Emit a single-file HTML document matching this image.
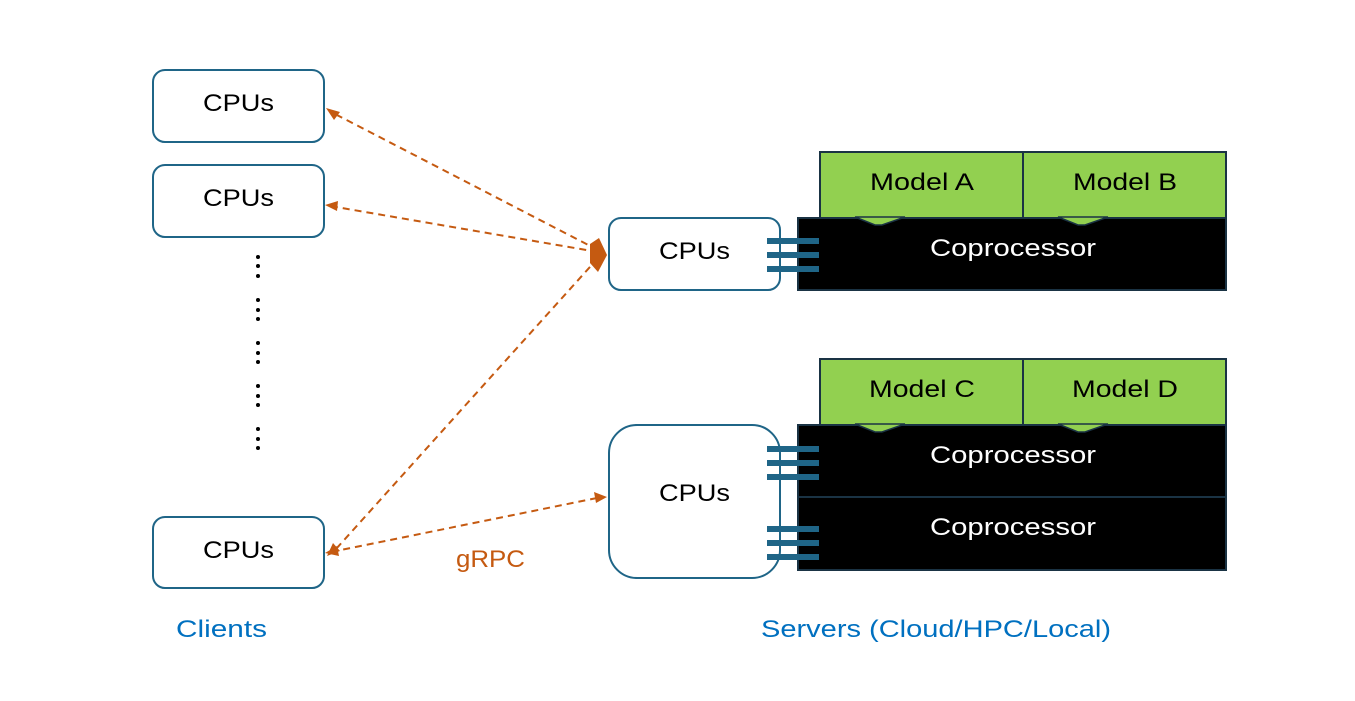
<!DOCTYPE html>
<html><head><meta charset="utf-8"><style>
html,body{margin:0;padding:0;background:#fff;}
svg{display:block;font-family:"Liberation Sans",sans-serif;}
</style></head><body>
<svg width="1355" height="701" viewBox="0 0 1355 701" xmlns="http://www.w3.org/2000/svg">
<g fill="#fff" stroke="#1f6587" stroke-width="2">
<rect x="153" y="70" width="171" height="72" rx="12"/>
<rect x="153" y="165" width="171" height="72" rx="12"/>
<rect x="153" y="517" width="171" height="71" rx="12"/>
<rect x="609" y="218" width="171" height="72" rx="12"/>
<rect x="609" y="425" width="171" height="153" rx="28"/>
</g>
<g fill="#000">
<circle cx="258" cy="257" r="2"/><circle cx="258" cy="266" r="2"/><circle cx="258" cy="276" r="2"/>
<circle cx="258" cy="300" r="2"/><circle cx="258" cy="310" r="2"/><circle cx="258" cy="319" r="2"/>
<circle cx="258" cy="343" r="2"/><circle cx="258" cy="353" r="2"/><circle cx="258" cy="362" r="2"/>
<circle cx="258" cy="386" r="2"/><circle cx="258" cy="396" r="2"/><circle cx="258" cy="405" r="2"/>
<circle cx="258" cy="429" r="2"/><circle cx="258" cy="439" r="2"/><circle cx="258" cy="448" r="2"/>
</g>
<g stroke="#1a3344" stroke-width="2">
<rect x="820" y="152" width="203" height="66" fill="#92d050"/>
<rect x="1023" y="152" width="203" height="66" fill="#92d050"/>
<rect x="798" y="218" width="428" height="72" fill="#000"/>
<rect x="820" y="359" width="203" height="66" fill="#92d050"/>
<rect x="1023" y="359" width="203" height="66" fill="#92d050"/>
<rect x="798" y="425" width="428" height="72" fill="#000"/>
<rect x="798" y="497" width="428" height="73" fill="#000"/>
</g>
<g fill="#92d050" stroke="#1a3344" stroke-width="1.5">
<path d="M855 217 L875 225 L882 225 L905 217 Z"/>
<path d="M1058 217 L1078 225 L1085 225 L1108 217 Z"/>
<path d="M855 424 L875 432 L882 432 L905 424 Z"/>
<path d="M1058 424 L1078 432 L1085 432 L1108 424 Z"/>
</g>
<g fill="#1f6587">
<rect x="767" y="238" width="52" height="6"/><rect x="767" y="252" width="52" height="6"/><rect x="767" y="266" width="52" height="6"/>
<rect x="767" y="446" width="52" height="6"/><rect x="767" y="460" width="52" height="6"/><rect x="767" y="474" width="52" height="6"/>
<rect x="767" y="526" width="52" height="6"/><rect x="767" y="540" width="52" height="6"/><rect x="767" y="554" width="52" height="6"/>
</g>
<g stroke="#c55a11" stroke-width="2" stroke-dasharray="7,5" fill="none">
<line x1="598" y1="250" x2="335" y2="114"/>
<line x1="598" y1="252" x2="336" y2="207"/>
<line x1="598" y1="258" x2="336" y2="549"/>
<line x1="597" y1="498" x2="336" y2="551"/>
</g>
<g fill="#c55a11">
<polygon points="326,108 340,112 334,120"/>
<polygon points="325,205 338,201 337,211"/>
<polygon points="327,556 333,543 340,551"/>
<polygon points="325,553 337,546 339,556"/>
<polygon points="607,497 594,492 596,503"/>
<polygon points="590,244 599,238 607,255 598,272 590,263"/>
</g>
<g font-size="24" fill="#000">
<text x="203" y="111" textLength="71" lengthAdjust="spacingAndGlyphs">CPUs</text>
<text x="203" y="206" textLength="71" lengthAdjust="spacingAndGlyphs">CPUs</text>
<text x="203" y="558" textLength="71" lengthAdjust="spacingAndGlyphs">CPUs</text>
<text x="659" y="259" textLength="71" lengthAdjust="spacingAndGlyphs">CPUs</text>
<text x="659" y="501" textLength="71" lengthAdjust="spacingAndGlyphs">CPUs</text>
<text x="870" y="190" textLength="104" lengthAdjust="spacingAndGlyphs">Model A</text>
<text x="1073" y="190" textLength="104" lengthAdjust="spacingAndGlyphs">Model B</text>
<text x="869" y="397" textLength="106" lengthAdjust="spacingAndGlyphs">Model C</text>
<text x="1072" y="397" textLength="106" lengthAdjust="spacingAndGlyphs">Model D</text>
</g>
<g font-size="24" fill="#fff">
<text x="930" y="256" textLength="166" lengthAdjust="spacingAndGlyphs">Coprocessor</text>
<text x="930" y="463" textLength="166" lengthAdjust="spacingAndGlyphs">Coprocessor</text>
<text x="930" y="535" textLength="166" lengthAdjust="spacingAndGlyphs">Coprocessor</text>
</g>
<text x="456" y="567" font-size="24" fill="#c55a11" textLength="69" lengthAdjust="spacingAndGlyphs">gRPC</text>
<text x="176" y="637" font-size="24" fill="#0070c0" textLength="91" lengthAdjust="spacingAndGlyphs">Clients</text>
<text x="761" y="637" font-size="24" fill="#0070c0" textLength="350" lengthAdjust="spacingAndGlyphs">Servers (Cloud/HPC/Local)</text>
</svg>
</body></html>
